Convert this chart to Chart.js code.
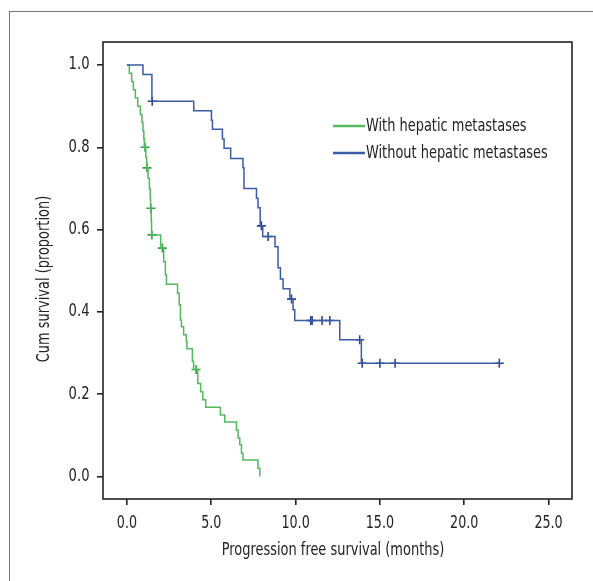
<!DOCTYPE html>
<html>
<head>
<meta charset="utf-8">
<script src="https://cdn.jsdelivr.net/npm/chart.js@4.4.1/dist/chart.umd.min.js"></script>
<style>
  body { margin: 0; overflow: hidden; background: #fff; }
  #frame { position: absolute; left: 9px; top: 11px; width: 700px; height: 700px; border: 1px solid #7a7a7a; }
  #c { position: absolute; left: 0; top: 0; }
</style>
</head>
<body>
<div id="frame"></div>
<canvas id="c" width="593" height="581"></canvas>
<script>
// Kaplan-Meier readings (time in months, cumulative survival)
const greenTimes = [0, 0.14, 0.28, 0.38, 0.5, 0.64, 0.79, 0.89, 0.95, 1.0, 1.03, 1.12, 1.17, 1.25, 1.33, 1.38, 1.4, 1.44, 1.46, 2.0, 2.18, 2.28, 2.34, 3.0, 3.1, 3.17, 3.23, 3.36, 3.52, 3.56, 3.88, 3.95, 4.2, 4.37, 4.5, 4.67, 5.54, 5.8, 6.49, 6.59, 6.69, 6.79, 6.88, 7.77, 7.88];
const greenSurv  = [1.0, 0.98, 0.96, 0.94, 0.92, 0.90, 0.88, 0.86, 0.84, 0.82, 0.80, 0.775, 0.75, 0.725, 0.70, 0.675, 0.652, 0.62, 0.587, 0.555, 0.522, 0.49, 0.467, 0.445, 0.417, 0.38, 0.364, 0.344, 0.328, 0.31, 0.28, 0.26, 0.226, 0.206, 0.186, 0.168, 0.149, 0.132, 0.113, 0.093, 0.077, 0.056, 0.04, 0.02, 0.0];
const greenCensorTimes = [1.07, 1.19, 1.42, 1.48, 2.1, 4.1];
const greenCensorSurv  = [0.80, 0.75, 0.652, 0.587, 0.555, 0.26];

const blueTimes = [0, 0.95, 1.48, 3.96, 5.01, 5.07, 5.66, 5.76, 6.15, 6.88, 6.94, 7.68, 7.77, 7.9, 8.05, 8.78, 8.96, 9.1, 9.26, 9.66, 9.85, 9.95, 12.62, 13.9, 22.08];
const blueSurv  = [1.0, 0.977, 0.912, 0.889, 0.866, 0.844, 0.820, 0.798, 0.773, 0.750, 0.700, 0.676, 0.653, 0.609, 0.583, 0.558, 0.507, 0.480, 0.456, 0.431, 0.405, 0.379, 0.332, 0.275, 0.275];
const blueCensorTimes = [1.5, 7.97, 8.37, 9.76, 10.9, 10.98, 11.57, 12.03, 13.8, 13.95, 15.0, 15.9, 22.08];
const blueCensorSurv  = [0.912, 0.609, 0.583, 0.431, 0.379, 0.379, 0.379, 0.379, 0.332, 0.275, 0.275, 0.275, 0.275];

const xTicks = [0, 5, 10, 15, 20, 25];
const yTicks = [0, 0.2, 0.4, 0.6, 0.8, 1.0];
const seriesLabels = ['With hepatic metastases', 'Without hepatic metastases'];
const xTitle = 'Progression free survival (months)';
const yTitle = 'Cum survival (proportion)';

const GREEN = '#52b95e';
const BLUE = '#3b5ba5';
const FONT = "'DejaVu Sans Condensed', 'DejaVu Sans', sans-serif";
const INK = '#232323';

function pairs(xs, ys) {
    return xs.map((x, i) => ({ x: x, y: ys[i] }));
}

// the reference type is a condensed face, so squeeze the text sideways
function squeezed(ctx, text, x, y, size, align, sx, rot) {
    ctx.save();
    ctx.translate(x, y);
    if (rot) ctx.rotate(rot);
    ctx.scale(sx, 1);
    ctx.font = size + 'px ' + FONT;
    ctx.textAlign = align;
    ctx.textBaseline = 'middle';
    ctx.fillStyle = INK;
    ctx.fillText(text, 0, 0);
    ctx.restore();
}

// box, tick labels, axis titles and legend
const boxPlugin = {
    id: 'box',
    afterDraw(chart) {
        const { ctx, chartArea: a } = chart;
        const xs = chart.scales.x, ys = chart.scales.y;
        ctx.save();
        ctx.strokeStyle = INK;
        ctx.lineWidth = 1.6;
        ctx.strokeRect(a.left, a.top, a.right - a.left, a.bottom - a.top);

        xTicks.forEach(v => squeezed(ctx, v.toFixed(1), xs.getPixelForValue(v), 523.5, 17, 'center', 0.83));
        yTicks.forEach(v => squeezed(ctx, v.toFixed(1), 89.5, ys.getPixelForValue(v), 17, 'right', 0.86));

        squeezed(ctx, xTitle, 333, 550, 18, 'center', 0.8);
        squeezed(ctx, yTitle, 44, 279, 18, 'center', 0.8, -Math.PI / 2);

        const colors = [GREEN, BLUE];
        seriesLabels.forEach((label, i) => {
            const y = 126 + i * 27;
            ctx.strokeStyle = colors[i];
            ctx.lineWidth = 2.5;
            ctx.beginPath();
            ctx.moveTo(333, y);
            ctx.lineTo(365, y);
            ctx.stroke();
            squeezed(ctx, label, 366, y, 18, 'left', 0.8);
        });
        ctx.restore();
    }
};

new Chart(document.getElementById('c'), {
    type: 'scatter',
    data: {
        datasets: [
            {
                label: seriesLabels[1],
                data: pairs(blueTimes, blueSurv),
                showLine: true,
                stepped: 'before',
                borderColor: BLUE,
                borderWidth: 1.5,
                pointRadius: 0
            },
            {
                label: seriesLabels[0],
                data: pairs(greenTimes, greenSurv),
                showLine: true,
                stepped: 'before',
                borderColor: GREEN,
                borderWidth: 1.5,
                pointRadius: 0
            },
            {
                data: pairs(blueCensorTimes, blueCensorSurv),
                pointStyle: 'cross',
                pointRadius: 4.5,
                borderWidth: 1.6,
                borderColor: '#2c4590'
            },
            {
                data: pairs(greenCensorTimes, greenCensorSurv),
                pointStyle: 'cross',
                pointRadius: 4.5,
                borderWidth: 1.6,
                borderColor: '#35a046'
            }
        ]
    },
    options: {
        responsive: false,
        animation: false,
        devicePixelRatio: 1,
        layout: { padding: { top: 42, right: 21, left: 0, bottom: 0 } },
        plugins: {
            legend: { display: false },
            tooltip: { enabled: false }
        },
        scales: {
            x: {
                type: 'linear',
                min: -1.42,
                max: 26.39,
                afterBuildTicks: s => { s.ticks = xTicks.map(v => ({ value: v })); },
                afterFit: s => { s.height = 82; },
                border: { display: false },
                grid: { drawOnChartArea: false, drawTicks: true, tickLength: 6, color: INK, lineWidth: 1.6 },
                ticks: { display: false }
            },
            y: {
                type: 'linear',
                min: -0.055,
                max: 1.056,
                afterBuildTicks: s => { s.ticks = yTicks.map(v => ({ value: v })); },
                afterFit: s => { s.width = 103; },
                border: { display: false },
                grid: { drawOnChartArea: false, drawTicks: true, tickLength: 6, color: INK, lineWidth: 1.6 },
                ticks: { display: false }
            }
        }
    },
    plugins: [boxPlugin]
});
</script>
</body>
</html>
